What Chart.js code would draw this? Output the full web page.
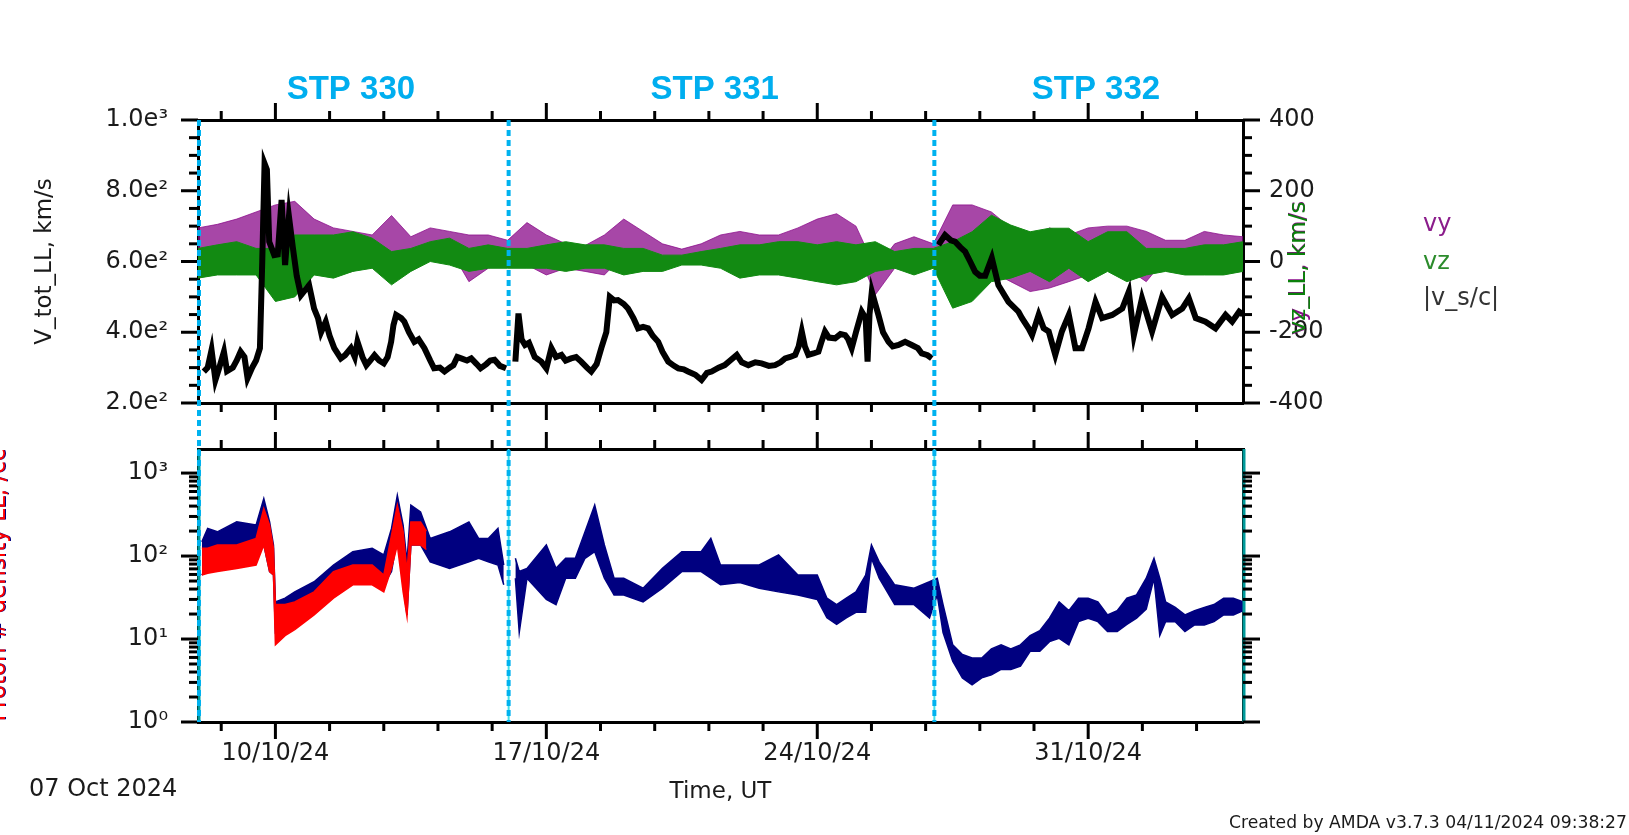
<!DOCTYPE html>
<html>
<head>
<meta charset="utf-8">
<script src="https://cdn.jsdelivr.net/npm/chart.js@4.4.1/dist/chart.umd.min.js"></script>
<style>
  html, body { margin: 0; padding: 0; background: #fff; }
  #wrap { position: relative; width: 1629px; height: 835px; }
  #wrap canvas { position: absolute; left: 0; top: 0; }
</style>
</head>
<body>
<div id="wrap">
  <canvas id="densityChart" width="1629" height="835"></canvas>
  <canvas id="velocityChart" width="1629" height="835"></canvas>
</div>
<script>
// time axis: days since 08/10/2024 00:00 UT
const dayTicks = [2, 9, 16, 23];
const dayTickLabels = ['10/10/24', '17/10/24', '24/10/24', '31/10/24'];
const dayMinorTicks = [0.6, 3.4, 4.8, 6.2, 7.6, 10.4, 11.8, 13.2, 14.6, 17.4, 18.8, 20.2, 21.6, 24.4, 25.8];

// STP periods
const stpBounds = [0, 8, 19, 27];
const stpNames = ['STP 330', 'STP 331', 'STP 332'];
const stpLabelDays = [3.95, 13.35, 23.2];

// top panel axes
const vTotTicks = [200, 400, 600, 800, 1000];
const vTotTickLabels = ['2.0e²', '4.0e²', '6.0e²', '8.0e²', '1.0e³'];
const vTotMinorTicks = [250, 300, 350, 450, 500, 550, 650, 700, 750, 850, 900, 950];
const vyzTicks = [-400, -200, 0, 200, 400];
const vyzTickLabels = ['-400', '-200', '0', '200', '400'];
const vyzMinorTicks = [-350, -300, -250, -150, -100, -50, 50, 100, 150, 250, 300, 350];

// bottom panel axis
const densTicks = [1, 10, 100, 1000];
const densTickLabels = ['10⁰', '10¹', '10²', '10³'];
const densMinorTicks = [2, 3, 4, 5, 6, 7, 8, 9, 20, 30, 40, 50, 60, 70, 80, 90, 200, 300, 400, 500, 600, 700, 800, 900];

// |v_s/c| (km/s)
const vTotDays = [0.15,0.25,0.35,0.45,0.55,0.67,0.75,0.9,1.0,1.1,1.2,1.28,1.4,1.5,1.6,1.66,1.72,1.78,1.84,1.97,2.06,2.16,2.25,2.35,2.45,2.55,2.66,2.77,2.87,3.0,3.1,3.18,3.3,3.4,3.52,3.69,3.8,3.95,4.05,4.12,4.25,4.35,4.45,4.56,4.68,4.8,4.9,4.99,5.05,5.12,5.25,5.33,5.45,5.59,5.7,5.85,6.0,6.1,6.25,6.37,6.5,6.6,6.7,6.8,6.95,7.06,7.2,7.3,7.45,7.55,7.66,7.8,7.96,8.08,8.2,8.28,8.36,8.45,8.55,8.7,8.87,9.0,9.13,9.25,9.39,9.5,9.64,9.77,9.9,10.05,10.16,10.3,10.42,10.55,10.64,10.75,10.85,11.0,11.11,11.25,11.37,11.5,11.63,11.75,11.89,12.0,12.15,12.3,12.41,12.55,12.66,12.85,13.01,13.15,13.27,13.45,13.61,13.75,13.92,14.05,14.22,14.4,14.56,14.75,14.91,15.05,15.17,15.3,15.43,15.52,15.6,15.68,15.77,15.9,16.03,16.1,16.2,16.3,16.46,16.6,16.72,16.8,16.89,17.0,17.15,17.25,17.3,17.35,17.41,17.5,17.58,17.7,17.84,17.95,18.1,18.27,18.44,18.6,18.7,18.85,18.96,19.05,19.13,19.3,19.45,19.56,19.7,19.82,19.95,20.08,20.2,20.34,20.51,20.68,20.94,21.2,21.29,21.46,21.55,21.72,21.85,21.98,22.15,22.32,22.5,22.67,22.84,23.01,23.19,23.36,23.62,23.88,24.05,24.18,24.39,24.65,24.91,25.17,25.43,25.6,25.78,26.03,26.29,26.55,26.72,26.9,27.0];
const vTotValues = [289,300,350,265,300,345,290,300,320,345,330,270,300,320,355,600,877,860,656,618,620,774,590,727,640,560,505,520,533,467,440,400,430,390,355,326,335,355,330,373,330,307,320,335,320,312,330,373,420,449,440,430,400,373,380,355,320,298,300,289,300,307,330,326,320,326,310,298,310,320,322,305,298,null,317,453,380,364,370,330,317,298,355,330,336,320,326,330,317,300,289,310,355,400,500,490,491,480,467,440,411,415,411,390,373,345,317,305,298,295,289,280,265,285,289,300,307,320,336,315,307,315,312,305,307,315,326,330,336,360,402,360,336,340,345,370,402,385,383,395,392,380,355,400,458,440,317,450,515,480,449,400,373,360,364,373,364,355,340,335,326,null,647,675,660,656,640,628,600,571,560,560,610,533,486,458,440,411,392,449,411,402,336,402,449,355,355,411,486,440,449,467,515,392,496,402,500,449,467,496,440,430,411,449,430,458,450];

// vy, vz (km/s): envelope of the point cloud, every 12 h
const vDays = [0,0.5,1,1.5,2,2.5,3,3.5,4,4.5,5,5.5,6,6.5,7,7.5,8,8.5,9,9.5,10,10.5,11,11.5,12,12.5,13,13.5,14,14.5,15,15.5,16,16.5,17,17.5,18,18.5,19,19.5,20,20.5,21,21.5,22,22.5,23,23.5,24,24.5,25,25.5,26,26.5,27];
const vyHigh = [95,105,120,140,160,170,120,95,85,75,130,70,95,85,75,75,60,110,75,50,45,75,120,85,50,35,50,75,85,75,75,95,120,135,100,-19,50,70,50,160,160,140,95,50,95,75,95,100,100,85,60,60,85,75,70];
const vyLow = [-19,0,-19,0,18,-20,-28,-38,-28,0,-28,18,28,37,-57,-19,0,-10,-38,-19,-28,-38,18,18,9,9,18,18,9,9,0,0,18,9,37,-94,-19,9,-10,18,-19,-28,-57,-85,-75,-57,-38,-10,-19,-57,9,-10,18,9,0];
const vzHigh = [37,47,56,37,37,75,75,75,84,66,28,37,56,66,37,47,37,37,47,56,47,47,37,37,18,18,28,37,47,47,56,56,47,56,47,56,28,37,37,56,84,131,103,84,94,94,56,84,84,37,37,37,47,47,56];
const vzLow = [-47,-38,-38,-38,-113,-100,-38,-47,-28,-19,-66,-28,0,-10,-28,-19,-19,-19,-19,-28,-19,-19,-38,-28,-28,-10,-10,-19,-47,-38,-38,-47,-57,-66,-57,-28,-19,-38,-19,-132,-113,-57,-47,-28,-57,-19,-57,-28,-57,-38,-28,-38,-38,-38,-28];

// proton density (/cc), two products
const navyDays = [0.1,0.25,0.5,1.0,1.5,1.7,1.85,1.95,2.0,2.25,2.5,3.0,3.5,4.0,4.5,4.8,5.0,5.15,5.3,5.4,5.5,5.75,6.0,6.5,7.0,7.25,7.5,7.75,7.9,8.05,8.2,8.3,8.5,9.0,9.25,9.5,9.75,10.0,10.25,10.5,10.75,11.0,11.5,12.0,12.5,13.0,13.25,13.5,14.0,14.5,15.0,15.5,16.0,16.25,16.5,16.75,17.0,17.25,17.4,17.6,18.0,18.5,18.9,19.1,19.25,19.5,19.75,20.0,20.25,20.5,20.75,21.0,21.25,21.5,21.75,22.0,22.25,22.5,22.75,23.0,23.25,23.5,23.75,24.0,24.25,24.5,24.7,24.85,25.0,25.25,25.5,25.75,26.0,26.25,26.5,26.75,27.0];
const navyHigh = [148,215,196,258,236,493,258,136,28,31,37,49,78,113,124,103,215,540,236,85,410,340,163,196,258,163,163,215,78,null,94,65,71,136,71,94,94,196,410,136,54,54,41,71,113,113,163,78,78,78,103,59,59,31,26,31,37,59,136,85,45,41,49,54,26,8.5,6.5,5.9,5.9,7.6,8.5,7.6,8.5,11,12.6,17.8,28,22,31,31,28,19.5,22,31,34,54,94,54,28,24,19.5,22,24,26,31,31,28];
const navyLow = [59,78,94,103,113,136,65,59,12,15,18,23,37,54,65,45,65,163,45,19.5,136,136,85,71,85,94,85,78,45,null,54,12,54,30,26,54,54,94,113,54,34,34,28,41,65,65,54,45,48,41,37,34,30,18,15,18,21,21,94,54,26,26,18,34,12,5.4,3.4,2.8,3.4,3.7,4.3,4.3,4.7,7.1,7.1,9.3,10.2,8.5,16.2,17.8,16.2,12.3,12.3,15,17.8,23,54,11,16.2,16.2,12.3,14.8,14.8,16.2,19.5,19.5,22];
const redDays = [0.1,0.25,0.5,1.0,1.5,1.7,1.85,1.95,2.0,2.25,2.5,3.0,3.5,4.0,4.5,4.8,5.0,5.15,5.3,5.4,5.5,5.75,5.9];
const redHigh = [124,124,136,136,163,374,236,124,26,26,28,37,65,78,78,59,178,410,196,65,258,258,200];
const redLow = [59,62,65,71,78,136,65,59,8.5,11,13,19.5,31,45,45,37,71,136,37,18.6,136,136,120];

// layout of the two panels (px)
const PLOT_LEFT = 198, PLOT_RIGHT = 1243;
const TOP_PANEL = [120, 403];
const BOTTOM_PANEL = [449, 722];
const W = 1629, H = 835;

const FONT = 'DejaVu Sans';
const PURPLE = '#8a0a8a', GREEN = '#0b800b', NAVY = '#000080', RED = '#ff0000';
const PURPLE_FILL = 'rgba(138, 10, 138, 0.75)', GREEN_FILL = '#128a12';
const CYAN = '#00aeef';

function pairs(xs, ys) {
  return xs.map((x, i) => ({ x: x, y: ys[i] }));
}

function tickList(majors, minors) {
  return majors.map(v => ({ value: v, major: true }))
    .concat(minors.map(v => ({ value: v, major: false })))
    .sort((a, b) => a.value - b.value);
}

function labelFor(majors, labels) {
  return function (value) {
    const i = majors.indexOf(value);
    return i >= 0 ? labels[i] : '';
  };
}

function axis(extra) {
  return Object.assign({
    grid: { display: false, drawTicks: false, tickLength: 0 },
    border: { display: true, color: '#000', width: 3 },
    ticks: { display: false, autoSkip: false, font: { family: FONT, size: 24 }, color: '#1a1a1a' }
  }, extra);
}

// outward tick marks, long on labelled values
const tickMarks = {
  id: 'tickMarks',
  afterDraw(chart) {
    const ctx = chart.ctx;
    ctx.save();
    ctx.strokeStyle = '#000';
    ctx.lineWidth = 3;
    Object.values(chart.scales).forEach(scale => {
      scale.ticks.forEach(t => {
        const p = scale.getPixelForValue(t.value);
        const len = t.major ? 17 : 9;
        ctx.beginPath();
        if (scale.position === 'left') { ctx.moveTo(scale.right, p); ctx.lineTo(scale.right - len, p); }
        else if (scale.position === 'right') { ctx.moveTo(scale.left, p); ctx.lineTo(scale.left + len, p); }
        else if (scale.position === 'top') { ctx.moveTo(p, scale.bottom); ctx.lineTo(p, scale.bottom - len); }
        else { ctx.moveTo(p, scale.top); ctx.lineTo(p, scale.top + len); }
        ctx.stroke();
      });
    });
    ctx.restore();
  }
};

const velocityOverlay = {
  id: 'velocityOverlay',
  afterDraw(chart) {
    const ctx = chart.ctx;
    const x = chart.scales.x;
    ctx.save();
    // STP names
    ctx.font = 'bold 33px "Liberation Sans", Arial, sans-serif';
    ctx.fillStyle = CYAN;
    ctx.textAlign = 'center';
    ctx.textBaseline = 'middle';
    stpNames.forEach((name, i) => ctx.fillText(name, x.getPixelForValue(stpLabelDays[i]), 90));

    // STP boundaries through both panels
    ctx.strokeStyle = '#00b2ef';
    ctx.lineWidth = 4;
    ctx.setLineDash([6, 4]);
    stpBounds.slice(0, 3).forEach(d => {
      const px = x.getPixelForValue(d) + 1;
      ctx.beginPath();
      ctx.moveTo(px, TOP_PANEL[0]);
      ctx.lineTo(px, BOTTOM_PANEL[1]);
      ctx.stroke();
    });
    ctx.setLineDash([]);

    // right axis title, two overlapping colours
    ctx.save();
    ctx.translate(1299, 268);
    ctx.rotate(-Math.PI / 2);
    ctx.font = '23px "' + FONT + '"';
    ctx.textAlign = 'center';
    ctx.textBaseline = 'middle';
    ctx.fillStyle = PURPLE;
    ctx.fillText('vy_LL, km/s', 0, 0);
    ctx.fillStyle = GREEN;
    ctx.fillText('vz_LL, km/s', 0, 0);
    ctx.restore();

    // legend
    ctx.font = '24px "' + FONT + '"';
    ctx.textAlign = 'left';
    ctx.textBaseline = 'middle';
    const legend = [['vy', '#8b1c8b', 225], ['vz', '#2c8c2c', 263], ['|v_s/c|', '#333', 299]];
    legend.forEach(([t, c, y]) => { ctx.fillStyle = c; ctx.fillText(t, 1423, y); });
    ctx.restore();
  }
};

const densityOverlay = {
  id: 'densityOverlay',
  afterDatasetsDraw(chart) {
    const ctx = chart.ctx;
    const x = chart.scales.x;
    ctx.save();
    ctx.lineWidth = 3;
    ctx.strokeStyle = '#009a9a';
    [stpBounds[0], stpBounds[3]].forEach(d => {
      const px = x.getPixelForValue(d) + 1;
      ctx.beginPath(); ctx.moveTo(px, BOTTOM_PANEL[0]); ctx.lineTo(px, BOTTOM_PANEL[1]); ctx.stroke();
    });
    ctx.lineWidth = 2;
    ctx.strokeStyle = '#40e0e8';
    [stpBounds[1], stpBounds[2]].forEach(d => {
      const px = x.getPixelForValue(d) + 1;
      ctx.beginPath(); ctx.moveTo(px, BOTTOM_PANEL[0]); ctx.lineTo(px, BOTTOM_PANEL[1]); ctx.stroke();
    });
    ctx.restore();
  },
  afterDraw(chart) {
    const ctx = chart.ctx;
    ctx.save();
    // left title, partly outside the page as in the original
    ctx.save();
    ctx.translate(6, 585);
    ctx.rotate(-Math.PI / 2);
    ctx.font = '23px "' + FONT + '"';
    ctx.textAlign = 'center';
    ctx.textBaseline = 'alphabetic';
    ctx.fillStyle = NAVY;
    ctx.fillText('Proton # density LL, /cc', 0, 0);
    ctx.fillStyle = RED;
    ctx.fillText('Proton # density LL, /cc', 0, -1);
    ctx.restore();

    ctx.fillStyle = '#1a1a1a';
    ctx.font = '24px "' + FONT + '"';
    ctx.textAlign = 'left';
    ctx.textBaseline = 'middle';
    ctx.fillText('07 Oct 2024', 29, 790);

    const footer = 'Created by AMDA v3.7.3 04/11/2024 09:38:27';
    ctx.font = '17px "' + FONT + '"';
    const w = ctx.measureText(footer).width;
    ctx.translate(W - 2 - 398, 824);
    ctx.scale(398 / w, 1);
    ctx.fillText(footer, 0, 0);
    ctx.restore();
  }
};

const baseOptions = {
  responsive: false,
  animation: false,
  events: [],
  layout: { padding: 0 },
  plugins: { legend: { display: false }, tooltip: { enabled: false } }
};

function xAxis(position, height, showLabels) {
  return axis({
    type: 'linear',
    position: position,
    min: stpBounds[0],
    max: stpBounds[3],
    afterFit: s => { s.height = height; },
    afterBuildTicks: s => { s.ticks = tickList(dayTicks, dayMinorTicks); },
    ticks: {
      display: showLabels, autoSkip: false, maxRotation: 0, padding: 17,
      font: { family: FONT, size: 24 }, color: '#1a1a1a',
      callback: labelFor(dayTicks, dayTickLabels)
    }
  });
}

new Chart(document.getElementById('velocityChart'), {
  type: 'line',
  data: {
    datasets: [
      { label: '|v_s/c|', data: pairs(vTotDays, vTotValues), yAxisID: 'y', borderColor: '#000', borderWidth: 6, pointRadius: 0, fill: false },
      { label: 'vz', data: pairs(vDays, vzHigh), yAxisID: 'y2', borderColor: GREEN_FILL, backgroundColor: GREEN_FILL, borderWidth: 1, pointRadius: 0, fill: '+1' },
      { label: 'vz min', data: pairs(vDays, vzLow), yAxisID: 'y2', borderColor: GREEN_FILL, borderWidth: 1, pointRadius: 0, fill: false },
      { label: 'vy', data: pairs(vDays, vyHigh), yAxisID: 'y2', borderColor: PURPLE_FILL, backgroundColor: PURPLE_FILL, borderWidth: 1, pointRadius: 0, fill: '+1' },
      { label: 'vy min', data: pairs(vDays, vyLow), yAxisID: 'y2', borderColor: PURPLE_FILL, borderWidth: 1, pointRadius: 0, fill: false }
    ]
  },
  options: Object.assign({}, baseOptions, {
    scales: {
      x: xAxis('bottom', H - TOP_PANEL[1], false),
      xTop: xAxis('top', TOP_PANEL[0], false),
      y: axis({
        type: 'linear', position: 'left', min: 200, max: 1000,
        afterFit: s => { s.width = PLOT_LEFT; },
        afterBuildTicks: s => { s.ticks = tickList(vTotTicks, vTotMinorTicks); },
        title: { display: true, text: 'V_tot_LL, km/s', color: '#1a1a1a', font: { family: FONT, size: 23 }, padding: { top: 31, bottom: 0 } },
        ticks: { display: true, autoSkip: false, padding: 30, font: { family: FONT, size: 24 }, color: '#1a1a1a', callback: labelFor(vTotTicks, vTotTickLabels) }
      }),
      y2: axis({
        type: 'linear', position: 'right', min: -400, max: 400,
        afterFit: s => { s.width = W - PLOT_RIGHT; },
        afterBuildTicks: s => { s.ticks = tickList(vyzTicks, vyzMinorTicks); },
        ticks: { display: true, autoSkip: false, padding: 26, font: { family: FONT, size: 24 }, color: '#1a1a1a', callback: labelFor(vyzTicks, vyzTickLabels) }
      })
    }
  }),
  plugins: [tickMarks, velocityOverlay]
});

const bottomX = xAxis('bottom', H - BOTTOM_PANEL[1], true);
bottomX.title = { display: true, text: 'Time, UT', color: '#1a1a1a', font: { family: FONT, size: 23 }, padding: { top: 0, bottom: 29 } };

new Chart(document.getElementById('densityChart'), {
  type: 'line',
  data: {
    datasets: [
      { label: 'density (red)', data: pairs(redDays, redHigh), yAxisID: 'y', borderColor: RED, backgroundColor: RED, borderWidth: 1.5, pointRadius: 0, fill: '+1' },
      { label: 'density (red) min', data: pairs(redDays, redLow), yAxisID: 'y', borderColor: RED, borderWidth: 1.5, pointRadius: 0, fill: false },
      { label: 'density', data: pairs(navyDays, navyHigh), yAxisID: 'y', borderColor: NAVY, backgroundColor: NAVY, borderWidth: 1.5, pointRadius: 0, fill: '+1' },
      { label: 'density min', data: pairs(navyDays, navyLow), yAxisID: 'y', borderColor: NAVY, borderWidth: 1.5, pointRadius: 0, fill: false }
    ]
  },
  options: Object.assign({}, baseOptions, {
    scales: {
      x: bottomX,
      xTop: xAxis('top', BOTTOM_PANEL[0], false),
      y: axis({
        type: 'logarithmic', position: 'left', min: 1, max: 1950,
        afterFit: s => { s.width = PLOT_LEFT; },
        afterBuildTicks: s => { s.ticks = tickList(densTicks, densMinorTicks); },
        ticks: { display: true, autoSkip: false, padding: 30, font: { family: FONT, size: 24 }, color: '#1a1a1a', callback: labelFor(densTicks, densTickLabels) }
      }),
      y2: axis({
        type: 'logarithmic', position: 'right', min: 1, max: 1950,
        afterFit: s => { s.width = W - PLOT_RIGHT; },
        afterBuildTicks: s => { s.ticks = tickList(densTicks, densMinorTicks); }
      })
    }
  }),
  plugins: [tickMarks, densityOverlay]
});
</script>
</body>
</html>
